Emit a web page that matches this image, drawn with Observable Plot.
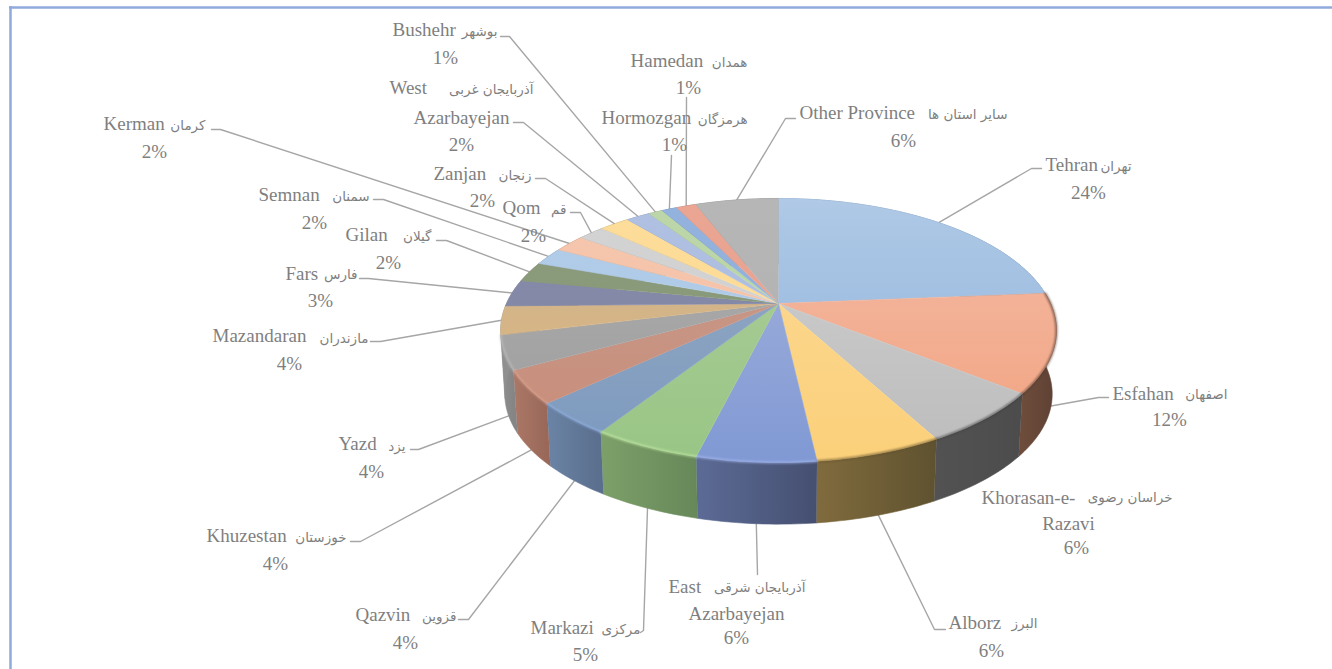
<!DOCTYPE html>
<html>
<head>
<meta charset="utf-8">
<script src="https://cdn.jsdelivr.net/npm/d3@7"></script>
<script src="https://cdn.jsdelivr.net/npm/@observablehq/plot@0.6"></script>
<style>
  html, body { margin: 0; padding: 0; background: #fff; overflow: hidden; }
  svg { display: block; }
</style>
</head>
<body>
<div id="chart"></div>
<script>
// ---------- data ----------
const provinces = ["Tehran","Esfahan","Khorasan-e-Razavi","Alborz","East Azarbayejan","Markazi","Qazvin","Khuzestan","Yazd","Mazandaran","Fars","Gilan","Semnan","Kerman","Qom","Zanjan","West Azarbayejan","Bushehr","Hormozgan","Hamedan","Other Province"];
const shares = [23.7,12.0,6.4,6.1,5.7,5.2,4.0,4.0,4.1,3.5,3.3,2.5,2.2,2.2,1.9,2.1,1.7,1.0,1.1,1.4,5.9];
const percentLabels = ["24%","12%","6%","6%","6%","5%","4%","4%","4%","4%","3%","2%","2%","2%","2%","2%","2%","1%","1%","1%","6%"];
const farsiNames = ["تهران","اصفهان","خراسان رضوی","البرز","آذربایجان شرقی","مرکزی","قزوین","خوزستان","یزد","مازندران","فارس","گیلان","سمنان","کرمان","قم","زنجان","آذربایجان غربی","بوشهر","هرمزگان","همدان","سایر استان ها"];

// ---------- styling ----------
const topStart = ["#afc9e6","#f3bba6","#d0d0d0","#fcd996","#a6b3dc","#aecc9b","#98abc2","#c69d8f","#adadad","#c9b594","#8a8eaa","#8c9c7e","#b2cde9","#f5c6ae","#d3d3d3","#fcdd9a","#b0c0e2","#bcd6a9","#93b2dd","#eaa593","#b6b6b6"];
const topEnd   = ["#8db1db","#f2a27f","#bcbcbc","#fbd07a","#8099d4","#98c685","#7b99bf","#c98b77","#9d9d9d","#e2b478","#7a80a3","#849674","#a9c7e6","#f4bfa3","#cfcfcf","#fcd98e","#a9bbe0","#b6d3a0","#8dadda","#e89f8c","#b0b0b0"];
const sideStart = ["#6f8fb5","#6d4c3b","#525252","#806b3d","#5c6b96","#7d9f69","#6b84a5","#ab7868","#8f8f8f","#8f8f8f","#8f8f8f","#8f8f8f","#7d94ad","#a88773","#8c8c8c","#a58f60","#7889a8","#7f946f","#667e9f","#a06d60","#7f7f7f"];
const sideEnd   = ["#5c7a9e","#5e4134","#4c4c4c","#5f5230","#454f70","#67895a","#5a6e8d","#9a6858","#858585","#8f8f8f","#8f8f8f","#8f8f8f","#6d8298","#967563","#7c7c7c","#938055","#6a7995","#70846a","#587090","#8e5f53","#6f6f6f"];
const rimColors = [null,"#4d3529","#3c3c3c","#5c4c28","#a9bcf2","#c9efaa","#90b0e2","#dca492","#c4c4c4",null,null,null,null,null,null,null,null,null,null,null,null];
const labelColor = "#7f7f7f", leaderColor = "#a6a6a6", frameColor = "#8faadc";
const latinFont = "Liberation Serif", farsiFont = "DejaVu Sans";
const latinSize = 19, farsiSize = 13.5;

// ---------- 3-D pie geometry ----------
const pie = {cx: 778, cy: 303, a: 272, b: 126.5, k: 0.2045, baseCy: 367, baseScale: 0.985};
const rimTop  = t => { const u = Math.sin(t), v = Math.cos(t), w = 1 + pie.k * v;
  return {x: pie.cx + pie.a * u / w, y: pie.cy - pie.b * v / w}; };
const rimBase = t => { const u = Math.sin(t), v = Math.cos(t), w = 1 + pie.k * v;
  return {x: pie.cx + pie.baseScale * pie.a * u / w, y: pie.baseCy - pie.baseScale * pie.b * v / w}; };

const total = d3.sum(shares);
let running = 0;
const slices = shares.map((s, i) => {
  const t0 = running / total * 2 * Math.PI; running += s;
  const t1 = running / total * 2 * Math.PI;
  const n = Math.max(3, Math.ceil((t1 - t0) / 0.02));
  const angles = d3.range(n + 1).map(j => t0 + (t1 - t0) * j / n);
  return {i, t0, t1, mid: (t0 + t1) / 2, angles};
});
const topPoly  = s => [{x: pie.cx, y: pie.cy}, ...s.angles.map(rimTop)];
const sidePoly = s => [...s.angles.map(rimTop), ...s.angles.slice().reverse().map(rimBase)];

// ---------- label layout (pixel positions of annotations) ----------
// en: [x, y] of Latin text start, fa: [right x, y], pct: [centre x, y], extra: second Latin line, elbow: leader bend points
const layout = [
  {en:[1045,164],fa:[1131,166],pct:[1088,192],elbow:[[1031,168],[1041,168]]},
  {en:[1112,393],fa:[1227,394],pct:[1169,419],elbow:[[1098,397],[1108,397]],base:true},
  {en:[981,497],fa:[1172,497],pct:[1076,547],extra:["Razavi",1068,523]},
  {en:[948,622],fa:[1037,623],pct:[991,650],elbow:[[934,629],[945,629]],base:true},
  {en:[668,586],fa:[805,587],pct:[736,637],extra:["Azarbayejan",736,613],elbow:[[757,574]],base:true},
  {en:[530,627],fa:[640,629],pct:[585,654],elbow:[[643,630],[640,632]],base:true},
  {en:[355,614],fa:[456,616],pct:[405,642],elbow:[[468,619],[458,619]],base:true},
  {en:[206,535],fa:[346,537],pct:[275,563],elbow:[[360,541],[350,541]],base:true},
  {en:[338,443],fa:[405,446],pct:[371,471],elbow:[[418,449],[410,449]],base:true},
  {en:[212,335],fa:[368,338],pct:[289,363],elbow:[[380,341],[370,341]]},
  {en:[285,273],fa:[357,274],pct:[320,300],elbow:[[368,278],[359,278]]},
  {en:[345,234],fa:[431,236],pct:[388,262],elbow:[[446,240],[436,240]]},
  {en:[258,194],fa:[369,196],pct:[314,222],elbow:[[383,199],[373,199]]},
  {en:[103,123],fa:[205,125],pct:[154,151],elbow:[[220,129],[211,129]]},
  {en:[502,207],fa:[566,209],pct:[533,235],elbow:[[580,212],[570,212]]},
  {en:[433,173],fa:[531,175],pct:[482,200],elbow:[[545,178],[535,178]]},
  {en:[389,87],fa:[533,89],pct:[461,144],extra:["Azarbayejan",461,117],elbow:[[523,122],[513,122]]},
  {en:[392,29],fa:[497,31],pct:[445,57],elbow:[[509,36],[500,36]]},
  {en:[601,117],fa:[747,119],pct:[674,144],elbow:[[671,155]]},
  {en:[630,60],fa:[747,62],pct:[688,87],elbow:[[686,97]]},
  {en:[799,112],fa:[1007,114],pct:[903,140],elbow:[[785,118],[795,118]]}
];
const latinFirstLine = ["Tehran","Esfahan","Khorasan-e-","Alborz","East","Markazi","Qazvin","Khuzestan","Yazd","Mazandaran","Fars","Gilan","Semnan","Kerman","Qom","Zanjan","West","Bushehr","Hormozgan","Hamedan","Other Province"];

const leaders = slices.flatMap(s => {
  const l = layout[s.i];
  if (!l.elbow) return [];
  const start = l.base ? rimBase(s.mid) : rimTop(s.mid);
  return [start, ...l.elbow.map(([x, y]) => ({x, y}))].map(p => ({...p, id: s.i}));
});

const latinRows = layout.map((l, i) => ({text: latinFirstLine[i], x: l.en[0], y: l.en[1]}));
const extraRows = layout.filter(l => l.extra).map(l => ({text: l.extra[0], x: l.extra[1], y: l.extra[2]}));
const percentRows = layout.map((l, i) => ({text: percentLabels[i], x: l.pct[0], y: l.pct[1]}));
const farsiRows = layout.map((l, i) => ({text: farsiNames[i], x: l.fa[0], y: l.fa[1]}));

// ---------- gradient definitions ----------
function gradientDefs() {
  const NS = "http://www.w3.org/2000/svg";
  const defs = document.createElementNS(NS, "defs");
  const add = (id, x1, y1, x2, y2, c0, c1) => {
    const g = document.createElementNS(NS, "linearGradient");
    g.setAttribute("id", id);
    g.setAttribute("gradientUnits", "userSpaceOnUse");
    for (const [k, v] of Object.entries({x1, y1, x2, y2})) g.setAttribute(k, v);
    [[0, c0], [1, c1]].forEach(([o, c]) => {
      const st = document.createElementNS(NS, "stop");
      st.setAttribute("offset", o); st.setAttribute("stop-color", c); g.appendChild(st);
    });
    defs.appendChild(g);
  };
  slices.forEach(s => {
    add(`top-${s.i}`, 0, 198, 0, 462, topStart[s.i], topEnd[s.i]);
    const xs = d3.extent(s.angles.map(a => rimTop(a).x));
    add(`side-${s.i}`, xs[0], 0, xs[1], 0, sideStart[s.i], sideEnd[s.i]);
  });
  return defs;
}

// ---------- plot ----------
const plot = Plot.plot({
  width: 1332, height: 669, margin: 0,
  x: {domain: [0, 1332], range: [0, 1332], axis: null},
  y: {domain: [0, 669], range: [0, 669], axis: null},
  style: {background: "#fff", overflow: "hidden"},
  marks: [
    gradientDefs,
    Plot.ruleY([7], {x1: 9, x2: 1332, stroke: frameColor, strokeWidth: 2.5}),
    Plot.ruleX([10], {y1: 6, y2: 669, stroke: frameColor, strokeWidth: 2.5}),
    Plot.line(leaders, {x: "x", y: "y", z: "id", stroke: leaderColor, strokeWidth: 1.4}),
    ...slices.map(s => Plot.line(sidePoly(s), {x: "x", y: "y", fill: `url(#side-${s.i})`, stroke: `url(#side-${s.i})`, strokeWidth: 0.6})),
    ...slices.map(s => Plot.line(topPoly(s), {x: "x", y: "y", fill: `url(#top-${s.i})`, stroke: `url(#top-${s.i})`, strokeWidth: 0.6})),
    ...slices.filter(s => rimColors[s.i]).map(s => Plot.line(s.angles.map(rimTop), {
      x: "x", y: "y", stroke: rimColors[s.i], strokeWidth: 2, strokeOpacity: 0.7, imageFilter: "blur(0.8px)"
    })),
    Plot.text(latinRows, {x: "x", y: "y", text: "text", textAnchor: "start", fill: labelColor, fontFamily: latinFont, fontSize: latinSize}),
    Plot.text(extraRows, {x: "x", y: "y", text: "text", textAnchor: "middle", fill: labelColor, fontFamily: latinFont, fontSize: latinSize}),
    Plot.text(farsiRows, {x: "x", y: "y", text: "text", textAnchor: "end", fill: labelColor, fontFamily: farsiFont, fontSize: farsiSize}),
    Plot.text(percentRows, {x: "x", y: "y", text: "text", textAnchor: "middle", fill: labelColor, fontFamily: latinFont, fontSize: latinSize})
  ]
});
document.getElementById("chart").appendChild(plot);
</script>
</body>
</html>
